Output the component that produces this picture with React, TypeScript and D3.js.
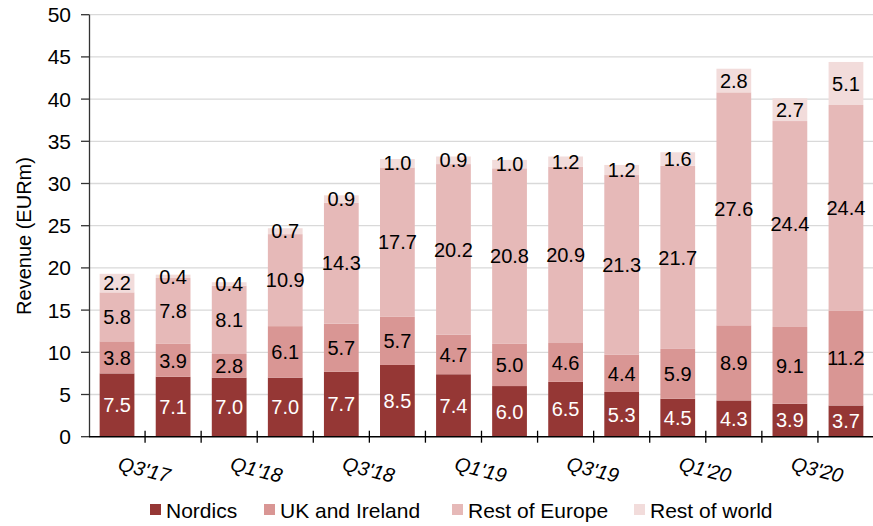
import React, { useEffect, useRef } from 'react';
import * as d3 from 'd3';

const quarters = ["Q3'17", "Q4'17", "Q1'18", "Q2'18", "Q3'18", "Q4'18", "Q1'19", "Q2'19", "Q3'19", "Q4'19", "Q1'20", "Q2'20", "Q3'20", "Q4'20"];
const nordics = [7.5, 7.1, 7.0, 7.0, 7.7, 8.5, 7.4, 6.0, 6.5, 5.3, 4.5, 4.3, 3.9, 3.7];
const ukIreland = [3.8, 3.9, 2.8, 6.1, 5.7, 5.7, 4.7, 5.0, 4.6, 4.4, 5.9, 8.9, 9.1, 11.2];
const restOfEurope = [5.8, 7.8, 8.1, 10.9, 14.3, 17.7, 20.2, 20.8, 20.9, 21.3, 21.7, 27.6, 24.4, 24.4];
const restOfWorld = [2.2, 0.4, 0.4, 0.7, 0.9, 1.0, 0.9, 1.0, 1.2, 1.2, 1.6, 2.8, 2.7, 5.1];
const seriesNames = ['Nordics', 'UK and Ireland', 'Rest of Europe', 'Rest of world'];
const yTicks = [0, 5, 10, 15, 20, 25, 30, 35, 40, 45, 50];

const colors = ['#953735', '#D99694', '#E6B9B8', '#F2DCDB'];
const labelColors = ['#ffffff', '#000000', '#000000', '#000000'];
const FONT = '"Liberation Sans", Arial, sans-serif';

type Row = { quarter: string; [key: string]: number | string };

const App: React.FC = () => {
    const svgRef = useRef<SVGSVGElement>(null);

    useEffect(() => {
        if (!svgRef.current) return;
        const svg = d3.select(svgRef.current);
        svg.selectAll('*').remove();

        const rows: Row[] = quarters.map((q, i) => ({
            quarter: q,
            [seriesNames[0]]: nordics[i],
            [seriesNames[1]]: ukIreland[i],
            [seriesNames[2]]: restOfEurope[i],
            [seriesNames[3]]: restOfWorld[i],
        }));

        const x = d3.scaleBand<string>()
            .domain(quarters)
            .range([89, 874])
            .paddingInner(0.38)
            .paddingOuter(0.19);

        const y = d3.scaleLinear()
            .domain([0, 50])
            .range([436.7, 14.7]);

        const stack = d3.stack<Row>().keys(seriesNames);
        const series = stack(rows);

        // gridlines
        svg.append('g')
            .selectAll('line')
            .data(yTicks.filter(t => t > 0))
            .join('line')
            .attr('x1', 90)
            .attr('x2', 874)
            .attr('y1', d => y(d))
            .attr('y2', d => y(d))
            .attr('stroke', '#d9d9d9')
            .attr('stroke-width', 1.3);

        // bars
        const groups = svg.append('g')
            .selectAll('g')
            .data(series)
            .join('g')
            .attr('fill', (_, i) => colors[i]);

        groups.selectAll('rect')
            .data(d => d)
            .join('rect')
            .attr('x', d => x(d.data.quarter as string)!)
            .attr('width', x.bandwidth())
            .attr('y', d => y(d[1]))
            .attr('height', d => y(d[0]) - y(d[1]));

        // data labels
        series.forEach((s, si) => {
            svg.append('g')
                .selectAll('text')
                .data(s)
                .join('text')
                .attr('x', d => x(d.data.quarter as string)! + x.bandwidth() / 2)
                .attr('y', d => y((d[0] + d[1]) / 2))
                .attr('dy', '0.36em')
                .attr('text-anchor', 'middle')
                .attr('font-family', FONT)
                .attr('font-size', 20)
                .attr('fill', labelColors[si])
                .text(d => (d[1] - d[0]).toFixed(1));
        });

        // y axis
        const yAxis = svg.append('g');
        yAxis.append('line')
            .attr('x1', 89.5).attr('x2', 89.5)
            .attr('y1', y(50)).attr('y2', y(0))
            .attr('stroke', '#333').attr('stroke-width', 1.3);
        yAxis.selectAll('line.tick')
            .data(yTicks)
            .join('line')
            .attr('class', 'tick')
            .attr('x1', 81).attr('x2', 89.5)
            .attr('y1', d => y(d)).attr('y2', d => y(d))
            .attr('stroke', '#333').attr('stroke-width', 1.3);
        yAxis.selectAll('text')
            .data(yTicks)
            .join('text')
            .attr('x', 71)
            .attr('y', d => y(d))
            .attr('dy', '0.36em')
            .attr('text-anchor', 'end')
            .attr('font-family', FONT)
            .attr('font-size', 21)
            .attr('fill', '#000')
            .text(d => d);

        svg.append('text')
            .attr('transform', 'translate(31,236) rotate(-90)')
            .attr('text-anchor', 'middle')
            .attr('font-family', FONT)
            .attr('font-size', 20)
            .attr('fill', '#000')
            .text('Revenue (EURm)');

        // x axis
        const xAxis = svg.append('g');
        const step = x.step();
        const x0 = x.range()[0];
        xAxis.append('line')
            .attr('x1', 89).attr('x2', 874)
            .attr('y1', y(0)).attr('y2', y(0))
            .attr('stroke', '#000').attr('stroke-width', 1.5);
        xAxis.selectAll('line.tick')
            .data(d3.range(1, quarters.length + 1))
            .join('line')
            .attr('class', 'tick')
            .attr('x1', i => x0 + i * step).attr('x2', i => x0 + i * step)
            .attr('y1', y(0) - 6).attr('y2', y(0) + 6)
            .attr('stroke', '#000').attr('stroke-width', 1.3);
        xAxis.selectAll('text')
            .data(quarters.filter((_, i) => i % 2 === 0))
            .join('text')
            .attr('transform', d => `translate(${x(d)! + x.bandwidth() / 2},470) rotate(14)`)
            .attr('text-anchor', 'start')
            .attr('font-family', FONT)
            .attr('font-size', 20)
            .attr('font-style', 'italic')
            .attr('fill', '#000')
            .text(d => d);

        // legend
        const legendX = [150, 264, 452, 634];
        const legend = svg.append('g')
            .selectAll('g')
            .data(seriesNames)
            .join('g')
            .attr('transform', (_, i) => `translate(${legendX[i]},504)`);
        legend.append('rect')
            .attr('width', 11).attr('height', 11)
            .attr('fill', (_, i) => colors[i]);
        legend.append('text')
            .attr('x', 16)
            .attr('y', 14)
            .attr('font-family', FONT)
            .attr('font-size', 21)
            .attr('fill', '#000')
            .text(d => d);
    }, []);

    return (
        <svg ref={svgRef} width={873} height={526} style={{ position: 'absolute', left: 0, top: 0, overflow: 'visible' }}></svg>
    );
};

export default App;
